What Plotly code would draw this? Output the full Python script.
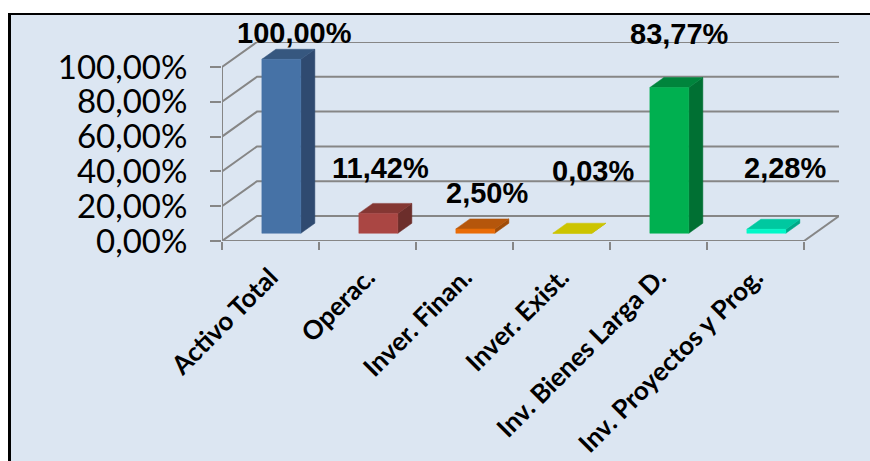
import plotly.graph_objects as go

categories = ["Activo Total", "Operac.", "Inver. Finan.", "Inver. Exist.", "Inv. Bienes Larga D.", "Inv. Proyectos y Prog."]
values = [100.00, 11.42, 2.50, 0.03, 83.77, 2.28]
axis_ticks = [0, 20, 40, 60, 80, 100]

front_colors = ["#4672A6", "#AA4643", "#E96C07", "#CCC400", "#00B050", "#00F8C8"]
side_colors = ["#2F4A70", "#6C2E2B", "#A04C08", "#B0A800", "#007033", "#00A888"]
top_colors = ["#36577F", "#843733", "#B5560B", "#CCC400", "#00843C", "#00C8A0"]

label_dx = [23.5, 12.5, 22.5, 31.5, 20.5, 29.5]
label_top = [33, 168, 193, 171, 34, 168]

W, H = 870, 461
LEFT, RIGHT, TOP, BOTTOM = 222, 839, 42, 241
CAT_PX = 97
PCT_PX = 1.74
DX = 35 / CAT_PX
DY = 25 / PCT_PX
GRID = "#868686"


def project(cat, val, depth):
    return cat + depth * DX, val + depth * DY


def polygon(points, color):
    xs, ys = zip(*points)
    return go.Scatter(x=list(xs) + [xs[0]], y=list(ys) + [ys[0]], mode="lines", fill="toself",
                      fillcolor=color, line=dict(color=color, width=0.5), hoverinfo="skip",
                      showlegend=False, cliponaxis=False)


fig = go.Figure()

# walls and floor, built from the axis ticks
gx, gy = [], []
for t in axis_ticks:
    a = project(0, t, 0)
    b = project(0, t, 1)
    c = project(len(categories), t, 1)
    gx += [a[0], b[0], c[0], None]
    gy += [a[1], b[1], c[1], None]
n = len(categories)
for p, q in [((0, 0, 0), (0, axis_ticks[-1], 0)), ((0, 0, 0), (n, 0, 0)), ((n, 0, 0), (n, 0, 1))]:
    a, b = project(*p), project(*q)
    gx += [a[0], b[0], None]
    gy += [a[1], b[1], None]
fig.add_trace(go.Scatter(x=gx, y=gy, mode="lines", line=dict(color=GRID, width=2), hoverinfo="skip",
                         showlegend=False, cliponaxis=False))

# pseudo 3-D bars
HALF = 19.5 / CAT_PX
D0, D1 = 0.31, 0.71
for i, v in enumerate(values):
    c = i + 0.5
    l, r = c - HALF, c + HALF
    fig.add_trace(polygon([project(r, 0, D0), project(r, 0, D1), project(r, v, D1), project(r, v, D0)], side_colors[i]))
    fig.add_trace(polygon([project(l, v, D0), project(r, v, D0), project(r, v, D1), project(l, v, D1)], top_colors[i]))
    fig.add_trace(polygon([project(l, 0, D0), project(r, 0, D0), project(r, v, D0), project(l, v, D0)], front_colors[i]))


def px(x):
    return (x - LEFT) / (RIGHT - LEFT)


def py(y):
    return (BOTTOM - y) / (BOTTOM - TOP)


annotations = []
for i, v in enumerate(values):
    annotations.append(dict(x=i + 0.5, y=0, xref="x", yref="y", yanchor="middle",
                            text=f"{v:.2f}%".replace(".", ","), showarrow=False,
                            xshift=label_dx[i], yshift=BOTTOM - label_top[i],
                            font=dict(family="Liberation Sans", size=29, color="black", weight="bold")))

shapes = [
    dict(type="rect", xref="paper", yref="paper", x0=px(8), x1=px(W + 5), y0=py(H + 5), y1=py(13),
         fillcolor="black", line=dict(width=0), layer="below"),
    dict(type="rect", xref="paper", yref="paper", x0=px(11), x1=px(W + 5), y0=py(H + 5), y1=py(15),
         fillcolor="#DCE6F2", line=dict(width=0), layer="below"),
]

fig.update_layout(
    width=W, height=H, autosize=False,
    margin=dict(l=LEFT, r=W - RIGHT, t=TOP, b=H - BOTTOM, pad=0),
    paper_bgcolor="white", plot_bgcolor="rgba(0,0,0,0)",
    showlegend=False, shapes=shapes, annotations=annotations,
    xaxis=dict(range=[0, (RIGHT - LEFT) / CAT_PX], tickmode="array", automargin=False,
               tickvals=[i + 0.5 for i in range(n)], ticktext=categories, tickangle=-45,
               ticks="", ticklen=0, showgrid=False, zeroline=False, showline=False,
               ticklabelstandoff=15,
               tickfont=dict(family="Lato", size=26, color="black", weight="bold"),
               minor=dict(ticks="outside", ticklen=8, tickwidth=2, tickcolor=GRID,
                          tickmode="array", tickvals=list(range(n + 1)), showgrid=False)),
    yaxis=dict(range=[0, (BOTTOM - TOP) / PCT_PX], tickmode="array", tickvals=axis_ticks, automargin=False,
               ticktext=[f"{t:.2f}%".replace(".", ",") for t in axis_ticks],
               ticks="outside", ticklen=11, tickwidth=2, tickcolor=GRID, showgrid=False,
               zeroline=False, showline=False, ticklabelstandoff=16,
               tickfont=dict(family="Lato", size=33, color="black")),
)

fig.write_html("out.html", config=dict(displayModeBar=False),
               post_script="document.body.style.margin='0';document.documentElement.style.overflow='hidden';")
